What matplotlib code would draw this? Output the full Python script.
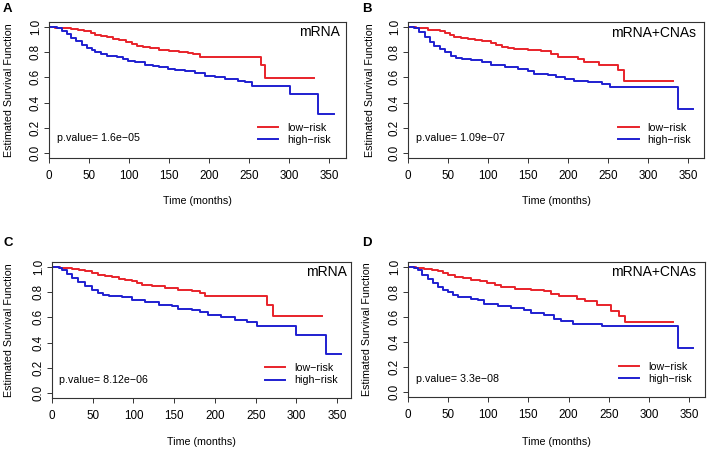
import matplotlib
matplotlib.use("Agg")
import matplotlib.pyplot as plt

plt.rcParams['font.family'] = ['Liberation Sans', 'DejaVu Sans']

# ---------------- data ----------------
panel_letters = ["A", "B", "C", "D"]
panel_titles = ["mRNA", "mRNA+CNAs", "mRNA", "mRNA+CNAs"]
p_values = ["p.value= 1.6e\u221205", "p.value= 1.09e\u221207",
            "p.value= 8.12e\u221206", "p.value= 3.3e\u221208"]
series_labels = ["low\u2212risk", "high\u2212risk"]
x_ticks = [0, 50, 100, 150, 200, 250, 300, 350]
y_ticks = [0.0, 0.2, 0.4, 0.6, 0.8, 1.0]
y_tick_labels = ["0.0", "0.2", "0.4", "0.6", "0.8", "1.0"]
x_label = "Time (months)"
y_label = "Estimated Survival Function"

# Panel A
a_low_t = [0, 8, 18, 28, 36, 44, 52, 58, 65, 72, 80, 88, 96, 104, 110, 118, 126,
           138, 150, 162, 174, 180, 188, 265, 270, 331]
a_low_s = [1.0, 0.995, 0.99, 0.985, 0.975, 0.965, 0.955, 0.94, 0.93, 0.92, 0.905,
           0.895, 0.88, 0.865, 0.85, 0.845, 0.83, 0.82, 0.81, 0.805, 0.795, 0.785,
           0.76, 0.695, 0.595, 0.595]
a_high_t = [0, 10, 16, 22, 28, 34, 41, 48, 54, 58, 65, 72, 85, 92, 99, 108, 120, 130,
            137, 149, 157, 170, 182, 195, 207, 220, 236, 245, 253, 301, 336, 356]
a_high_s = [1.0, 0.99, 0.97, 0.945, 0.915, 0.89, 0.86, 0.835, 0.815, 0.80, 0.785,
            0.773, 0.763, 0.745, 0.733, 0.72, 0.70, 0.69, 0.685, 0.67, 0.656, 0.648,
            0.635, 0.615, 0.60, 0.585, 0.57, 0.56, 0.533, 0.466, 0.309, 0.309]

# Panel B
b_low_t = [0, 10, 17, 25, 33, 40, 46, 52, 58, 66, 75, 84, 92, 104, 110, 117, 125,
           133, 150, 166, 179, 187, 212, 220, 239, 262, 270, 331]
b_low_s = [1.0, 0.995, 0.99, 0.98, 0.973, 0.965, 0.955, 0.94, 0.92, 0.913, 0.907,
           0.895, 0.888, 0.875, 0.86, 0.84, 0.835, 0.827, 0.816, 0.808, 0.787, 0.765,
           0.747, 0.725, 0.70, 0.655, 0.573, 0.573]
b_high_t = [0, 8, 14, 21, 27, 33, 40, 46, 54, 60, 67, 79, 92, 104, 121, 137, 150,
            158, 175, 185, 196, 208, 225, 242, 252, 337, 356]
b_high_s = [1.0, 0.99, 0.96, 0.92, 0.885, 0.853, 0.825, 0.80, 0.768, 0.758, 0.75,
            0.74, 0.72, 0.70, 0.685, 0.667, 0.653, 0.627, 0.62, 0.60, 0.587, 0.573,
            0.56, 0.547, 0.52, 0.352, 0.352]

# Panel C
c_low_t = [0, 10, 16, 25, 33, 41, 49, 57, 65, 74, 82, 90, 98, 104, 110, 123, 139,
           155, 172, 182, 188, 264, 271, 331]
c_low_s = [1.0, 0.995, 0.99, 0.985, 0.98, 0.968, 0.952, 0.94, 0.926, 0.917, 0.907,
           0.895, 0.886, 0.873, 0.86, 0.847, 0.833, 0.82, 0.807, 0.79, 0.767, 0.70,
           0.614, 0.614]
c_high_t = [0, 8, 12, 18, 24, 32, 41, 49, 57, 63, 70, 86, 98, 114, 131, 147, 155,
            172, 182, 192, 208, 225, 239, 252, 300, 336, 355]
c_high_s = [1.0, 0.99, 0.98, 0.945, 0.913, 0.88, 0.847, 0.82, 0.794, 0.78, 0.767,
            0.76, 0.74, 0.72, 0.70, 0.688, 0.667, 0.66, 0.643, 0.622, 0.60, 0.58,
            0.56, 0.529, 0.463, 0.31, 0.31]

# Panel D
d_low_t = [0, 10, 20, 30, 37, 44, 50, 58, 68, 79, 90, 99, 108, 116, 133, 153, 170,
           178, 188, 211, 220, 236, 253, 263, 270, 330]
d_low_s = [1.0, 0.995, 0.987, 0.975, 0.965, 0.952, 0.939, 0.92, 0.91, 0.90, 0.888,
           0.875, 0.86, 0.84, 0.827, 0.813, 0.805, 0.787, 0.77, 0.746, 0.725, 0.70,
           0.647, 0.612, 0.56, 0.56]
d_high_t = [0, 8, 12, 18, 25, 31, 37, 44, 50, 56, 62, 79, 87, 95, 112, 128, 145,
            153, 170, 182, 191, 205, 242, 336, 355]
d_high_s = [1.0, 0.99, 0.973, 0.94, 0.907, 0.873, 0.84, 0.82, 0.80, 0.78, 0.76,
            0.741, 0.733, 0.707, 0.685, 0.672, 0.653, 0.632, 0.613, 0.586, 0.565,
            0.546, 0.525, 0.352, 0.352]

low_times = [a_low_t, b_low_t, c_low_t, d_low_t]
low_surv = [a_low_s, b_low_s, c_low_s, d_low_s]
high_times = [a_high_t, b_high_t, c_high_t, d_high_t]
high_surv = [a_high_s, b_high_s, c_high_s, d_high_s]

# ---------------- layout (pixels) ----------------
W, H = 708, 450
# left, right, top, bottom of plot boxes
boxes = [(49, 346, 22, 158), (408, 704, 22, 158),
         (52, 351, 262, 398), (408, 705, 262, 397)]
xmax = [371, 370, 367, 370]
letter_pos = [(3, 12), (362, 12), (4, 246), (362, 246)]
title_px = [(340, 32.3), (696.3, 33.3), (346.5, 272.5), (696.3, 271.7)]
pval_px = [(56.7, 138), (415.7, 138.3), (59.3, 380), (415.7, 379.3)]
legend_px = [(258, 133.9), (618.3, 133.9), (265, 374.2), (619, 372.9)]
ylab_center = [8, 369, 8, 366]
xlab_center = [201.7, 201.7, 443, 443]

RED = "#e8232a"
BLUE = "#1f1fd0"
FS = 7.7
TFS = 8.4

fig = plt.figure(figsize=(W / 100, H / 100), dpi=100)

for i in range(4):
    l, r, t, b = boxes[i]
    ax = fig.add_axes([l / W, 1 - b / H, (r - l) / W, (b - t) / H])
    ax.plot(low_times[i], low_surv[i], drawstyle="steps-post", color=RED,
            lw=1.4, label=series_labels[0])
    ax.plot(high_times[i], high_surv[i], drawstyle="steps-post", color=BLUE,
            lw=1.4, label=series_labels[1])
    ax.set_xlim(0, xmax[i])
    ax.set_ylim(-0.04, 1.04)
    ax.set_xticks(x_ticks)
    ax.set_xticklabels([str(v) for v in x_ticks], fontsize=TFS)
    ax.set_yticks(y_ticks)
    ax.set_yticklabels(y_tick_labels, fontsize=TFS, rotation=90, va="center")
    ax.tick_params(direction="out", length=3.6, width=0.7, color="#333333")
    ax.tick_params(axis="x", pad=5.0)
    ax.tick_params(axis="y", pad=1.5)
    for sp in ax.spines.values():
        sp.set_color("#333333")
        sp.set_linewidth(0.8)

    w = r - l
    h = b - t
    ax.set_xlabel(x_label, fontsize=FS)
    ax.xaxis.set_label_coords(0.5, -(xlab_center[i] - b - 6) / h)
    ax.set_ylabel(y_label, fontsize=FS)
    ax.yaxis.set_label_coords(-(l - ylab_center[i] - 6) / w, 0.5)

    tx, ty = title_px[i]
    ax.text((tx - l) / w, (b - ty) / h, panel_titles[i], transform=ax.transAxes,
            ha="right", va="center", fontsize=10)
    px, py = pval_px[i]
    ax.text((px - l) / w, (b - py) / h, p_values[i], transform=ax.transAxes,
            ha="left", va="center", fontsize=FS)
    lx, ly = legend_px[i]
    ax.legend(loc="center left", bbox_to_anchor=((lx - l) / w, (b - ly) / h),
              frameon=False, fontsize=FS, borderpad=0, borderaxespad=0,
              handlelength=1.9, handletextpad=0.8, labelspacing=0.2)

    gx, gy = letter_pos[i]
    fig.text(gx / W, 1 - gy / H, panel_letters[i], fontsize=9.5,
             fontweight="bold", ha="left", va="baseline")

fig.savefig("out.png", dpi=100)
